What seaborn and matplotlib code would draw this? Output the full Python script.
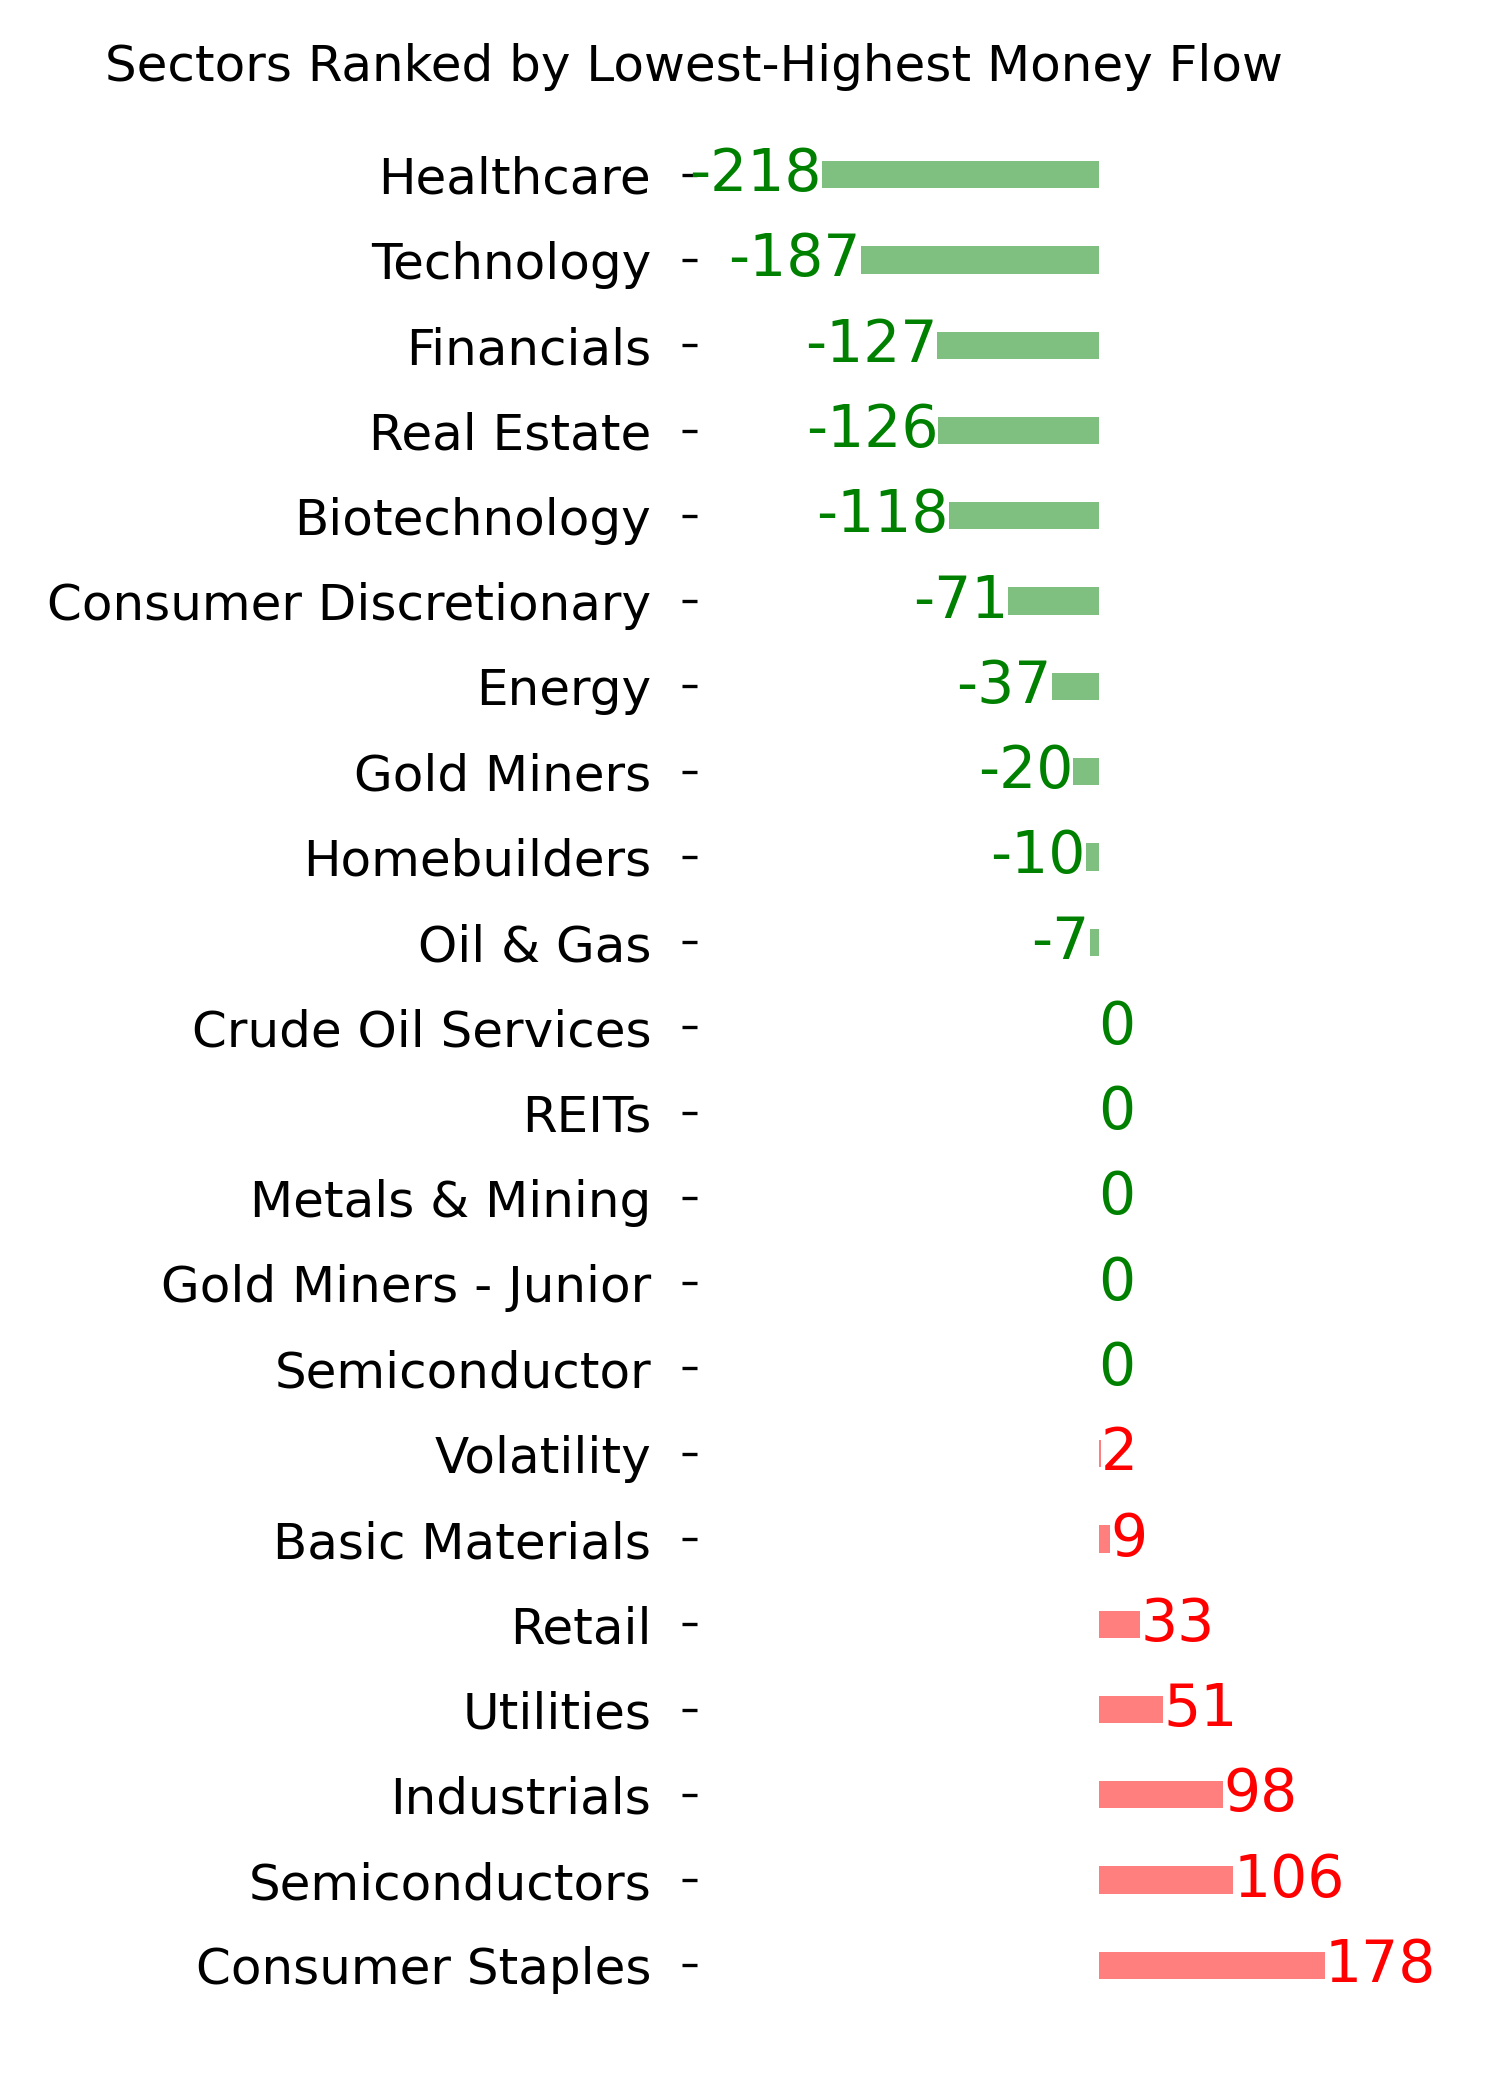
import matplotlib
matplotlib.use("Agg")
import matplotlib.pyplot as plt
import seaborn as sns
import pandas as pd

# Data
sectors = [
    "Healthcare", "Technology", "Financials", "Real Estate", "Biotechnology",
    "Consumer Discretionary", "Energy", "Gold Miners", "Homebuilders", "Oil & Gas",
    "Crude Oil Services", "REITs", "Metals & Mining", "Gold Miners - Junior",
    "Semiconductor", "Volatility", "Basic Materials", "Retail", "Utilities",
    "Industrials", "Semiconductors", "Consumer Staples",
]
money_flow = [
    -218, -187, -127, -126, -118,
    -71, -37, -20, -10, -7,
    0, 0, 0, 0,
    0, 2, 9, 33, 51,
    98, 106, 178,
]
title = "Sectors Ranked by Lowest-Highest Money Flow"


def plot_money_flow():
    sns.set_style("white")
    plt.rcParams['font.family'] = ['DejaVu Sans']

    df = pd.DataFrame({"sector": sectors, "flow": money_flow})
    df["sign"] = ["neg" if v <= 0 else "pos" for v in df["flow"]]

    fig = plt.figure(figsize=(5, 7), dpi=300)
    ax = fig.add_axes([0.4647, 0.0438, 0.5353, 0.8933])

    sns.barplot(data=df, x="flow", y="sector", hue="sign",
                palette={"neg": "green", "pos": "red"}, dodge=False,
                width=0.32, alpha=0.5, saturation=1, linewidth=0,
                legend=False, ax=ax, orient="h")

    # value labels next to each bar
    for i, v in enumerate(df["flow"]):
        if v < 0:
            ax.text(v, i, str(v), ha="right", va="center", color="green", fontsize=14)
        elif v == 0:
            ax.text(v, i, str(v), ha="left", va="center", color="green", fontsize=14)
        else:
            ax.text(v, i, str(v), ha="left", va="center", color="red", fontsize=14)

    ax.set_xlim(-316, 316)
    ax.set_ylim(len(sectors) - 0.5, -0.5)
    ax.set_xlabel("")
    ax.set_ylabel("")
    ax.set_xticks([])
    for s in ax.spines.values():
        s.set_visible(False)
    ax.tick_params(axis="y", left=True, length=3.5, width=0.8, color="black",
                   pad=7.5, labelsize=12, labelcolor="black")

    fig.text(0.4627, 1 - 67 / 2100, title, ha="center", va="center",
             fontsize=12, color="black")

    fig.savefig("out.png", dpi=300)
    plt.close(fig)


if __name__ == "__main__":
    plot_money_flow()
